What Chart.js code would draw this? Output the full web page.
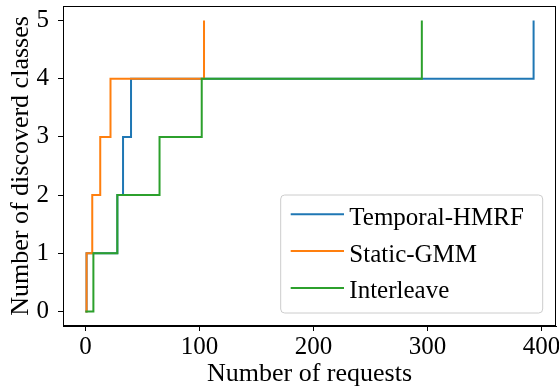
<!DOCTYPE html>
<html>
<head>
<meta charset="utf-8">
<script src="https://cdn.jsdelivr.net/npm/chart.js@4/dist/chart.umd.min.js"></script>
<style>
  html, body { margin: 0; padding: 0; background: #fff; }
  #wrap { width: 559px; height: 387px; }
</style>
</head>
<body>
<div id="wrap"><canvas id="c" width="559" height="387"></canvas></div>
<script>
// ---- data ----
const seriesNames = ['Temporal-HMRF', 'Static-GMM', 'Interleave'];
const seriesColors = ['#1f77b4', '#ff7f0e', '#2ca02c'];

const hmrfRequests  = [0, 1, 28, 33, 40, 393];
const hmrfClasses   = [0, 1, 2, 3, 4, 5];
const gmmRequests   = [0, 1, 6, 13, 22, 104];
const gmmClasses    = [0, 1, 2, 3, 4, 5];
const interRequests = [0, 7, 28, 65, 102, 295];
const interClasses  = [0, 1, 2, 3, 4, 5];

const xTickValues = [0, 100, 200, 300, 400];
const yTickValues = [0, 1, 2, 3, 4, 5];

const xTitle = 'Number of requests';
const yTitle = 'Number of discoverd classes';

// ---- build ----
const FONT = 'Liberation Serif';
const toPts = (xs, ys) => xs.map((x, i) => ({ x: x, y: ys[i] }));
const seriesData = [
  toPts(hmrfRequests, hmrfClasses),
  toPts(gmmRequests, gmmClasses),
  toPts(interRequests, interClasses)
];
const drawOrder = [3, 2, 1]; // green on top, then orange, then blue

const datasets = seriesData.map((d, i) => ({
  label: seriesNames[i],
  data: d,
  borderColor: seriesColors[i],
  backgroundColor: seriesColors[i],
  borderWidth: 2,
  pointRadius: 0,
  pointHoverRadius: 0,
  fill: false,
  tension: 0,
  stepped: 'before',
  order: drawOrder[i],
  borderCapStyle: 'butt',
  borderJoinStyle: 'miter'
}));

const xs = [].concat(hmrfRequests, gmmRequests, interRequests);
const xMaxData = Math.max.apply(null, xs), xMinData = Math.min.apply(null, xs);
const xPad = (xMaxData - xMinData) * 0.05;
const ys = [].concat(hmrfClasses, gmmClasses, interClasses);
const yMaxData = Math.max.apply(null, ys), yMinData = Math.min.apply(null, ys);
const yPad = (yMaxData - yMinData) * 0.05;

const framePlugin = {
  id: 'frame',
  afterDatasetsDraw(chart) {
    const { ctx, chartArea: a } = chart;
    ctx.save();
    ctx.strokeStyle = '#000';
    ctx.lineWidth = 1;
    ctx.strokeRect(Math.round(a.left) + 0.5, Math.round(a.top) + 0.5,
                   Math.round(a.right - a.left) - 1, Math.round(a.bottom - a.top) - 1);
    ctx.restore();
  }
};

const legendPlugin = {
  id: 'mplLegend',
  afterDatasetsDraw(chart) {
    const { ctx, chartArea: a } = chart;
    const w = 262, h = 118;
    const x0 = a.right - 13.3 - w, y0 = a.bottom - 13 - h;
    const r = 4;
    ctx.save();
    ctx.beginPath();
    ctx.moveTo(x0 + r, y0);
    ctx.lineTo(x0 + w - r, y0);
    ctx.arcTo(x0 + w, y0, x0 + w, y0 + r, r);
    ctx.lineTo(x0 + w, y0 + h - r);
    ctx.arcTo(x0 + w, y0 + h, x0 + w - r, y0 + h, r);
    ctx.lineTo(x0 + r, y0 + h);
    ctx.arcTo(x0, y0 + h, x0, y0 + h - r, r);
    ctx.lineTo(x0, y0 + r);
    ctx.arcTo(x0, y0, x0 + r, y0, r);
    ctx.closePath();
    ctx.fillStyle = 'rgba(255,255,255,0.8)';
    ctx.fill();
    ctx.strokeStyle = '#cccccc';
    ctx.lineWidth = 1;
    ctx.stroke();

    ctx.font = '25px "' + FONT + '"';
    ctx.textAlign = 'left';
    ctx.textBaseline = 'alphabetic';
    seriesNames.forEach((name, i) => {
      const ly = y0 + 19.3 + i * 36.8;
      ctx.beginPath();
      ctx.moveTo(x0 + 10, ly);
      ctx.lineTo(x0 + 63.3, ly);
      ctx.strokeStyle = seriesColors[i];
      ctx.lineWidth = 2;
      ctx.stroke();
      ctx.fillStyle = '#000';
      ctx.fillText(name, x0 + 68.6, y0 + 30 + i * 36.7);
    });
    ctx.restore();
  }
};

new Chart(document.getElementById('c'), {
  type: 'line',
  data: { datasets: datasets },
  options: {
    responsive: false,
    devicePixelRatio: 1,
    animation: false,
    events: [],
    layout: { padding: { top: 6, right: 3, left: 0, bottom: 0 } },
    plugins: { legend: { display: false }, tooltip: { enabled: false } },
    scales: {
      x: {
        type: 'linear',
        min: xMinData - xPad,
        max: xMaxData + xPad,
        afterBuildTicks(s) { s.ticks = xTickValues.map(v => ({ value: v })); },
        afterFit(s) { s.height = 61; s.paddingLeft = 0; s.paddingRight = 0; },
        ticks: {
          color: '#000',
          padding: 4,
          maxRotation: 0,
          autoSkip: false,
          font: { family: FONT, size: 25, lineHeight: 1 }
        },
        grid: { display: true, drawOnChartArea: false, drawTicks: true, tickLength: 5, color: '#000', lineWidth: 1 },
        border: { display: true, color: '#000', width: 1 },
        title: {
          display: true, text: xTitle, color: '#000',
          font: { family: FONT, size: 26, lineHeight: 1 },
          padding: { top: 0, bottom: 0 }
        }
      },
      y: {
        type: 'linear',
        min: yMinData - yPad,
        max: yMaxData + yPad,
        afterBuildTicks(s) { s.ticks = yTickValues.map(v => ({ value: v })); },
        afterFit(s) { s.width = 63; s.paddingTop = 0; s.paddingBottom = 0; },
        ticks: {
          color: '#000',
          padding: 9,
          autoSkip: false,
          font: { family: FONT, size: 25, lineHeight: 1 }
        },
        grid: { display: true, drawOnChartArea: false, drawTicks: true, tickLength: 5, color: '#000', lineWidth: 1 },
        border: { display: true, color: '#000', width: 1 },
        title: {
          display: true, text: yTitle, color: '#000',
          font: { family: FONT, size: 26, lineHeight: 1 },
          padding: { top: 8, bottom: 0 }
        }
      }
    }
  },
  plugins: [framePlugin, legendPlugin]
});
</script>
</body>
</html>
